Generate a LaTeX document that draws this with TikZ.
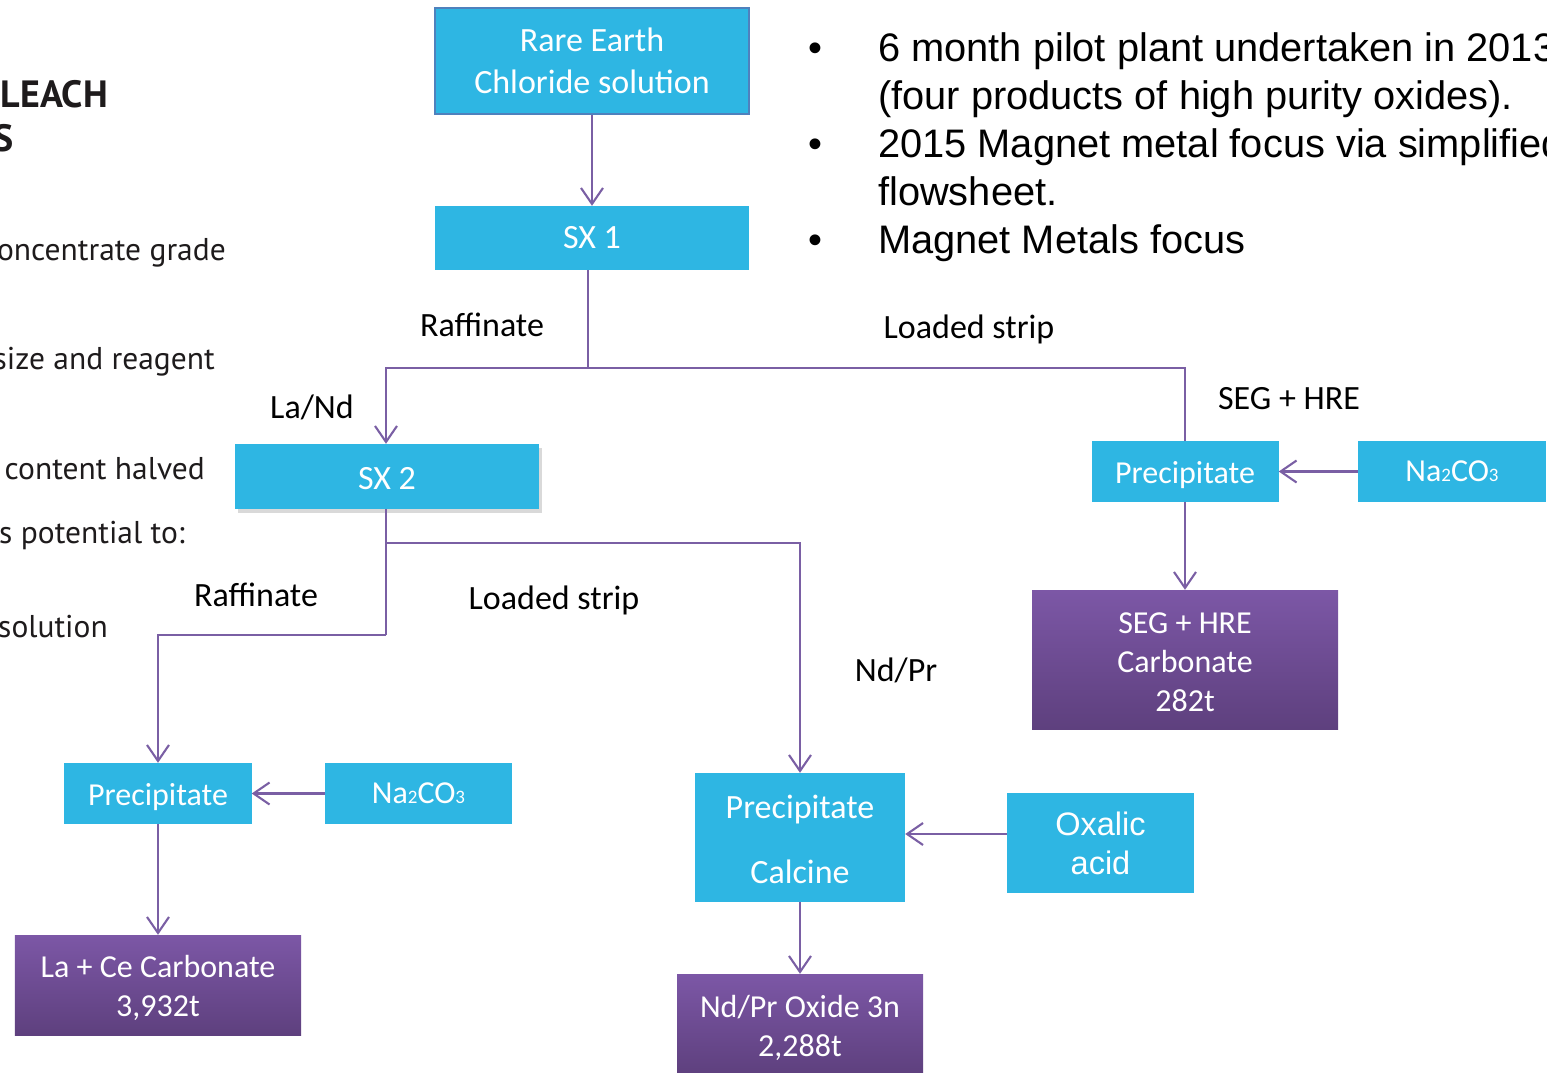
\documentclass[tikz,border=0pt]{standalone}
\usepackage{fontspec}
\setmainfont{Carlito}
\newfontfamily\arialf{Liberation Sans}
\newfontfamily\leftf{PT Sans}
\usetikzlibrary{arrows.meta,shadows}
\definecolor{boxblue}{RGB}{46,182,227}
\definecolor{arrowpurple}{RGB}{122,95,164}
\definecolor{ptop}{RGB}{124,87,166}
\definecolor{pbot}{RGB}{94,64,126}
\definecolor{reborder}{RGB}{79,129,189}
\definecolor{sidetext}{RGB}{30,27,28}
\newcommand\subdig[1]{{\fontsize{19bp}{19bp}\selectfont #1}}
\begin{document}
\begin{tikzpicture}[x=1bp,y=-1bp,
  bluebox/.style={fill=boxblue,text=white,inner sep=0pt,align=center,font=\fontsize{32bp}{39bp}\selectfont},
  purplebox/.style={top color=ptop,bottom color=pbot,text=white,inner sep=0pt,align=center,font=\fontsize{32bp}{39bp}\selectfont},
  lowertext/.style={execute at begin node={\rule{0pt}{#1}}},
  flow/.style={draw=arrowpurple,line width=2.1bp},
  arr/.style={flow,-{Straight Barb[length=16bp,width=22bp,line width=2.1bp]}},
  lbl/.style={font=\fontsize{34bp}{39bp}\selectfont,text=black,inner sep=0pt},
  bul/.style={font=\arialf\fontsize{39.8bp}{48bp}\selectfont,anchor=base west,inner sep=0pt},
  bdot/.style={font=\arialf\fontsize{39.8bp}{48bp}\selectfont,anchor=base,inner sep=0pt},
  side/.style={font=\leftf\fontsize{31.5bp}{36bp}\selectfont,anchor=base east,inner sep=0pt,text=sidetext}
]
\useasboundingbox (0,0) rectangle (1547,1072);
\clip (0,0) rectangle (1547,1072);

% left side partial text
\node[side,font=\leftf\bfseries\fontsize{38bp}{40bp}\selectfont] (t1) at (108,107) {LEACH};
\node[side,font=\leftf\bfseries\fontsize{38bp}{40bp}\selectfont] (t2) at (14,151) {S};
\node[side] (t3) at (226,260) {oncentrate grade};
\node[side] (t4) at (215,369) {size and reagent};
\node[side] (t5) at (205,479) {content halved};
\node[side] (t6) at (185,543) {s potential to:};
\node[side] (t7) at (108,637) {solution};

% bullets
\node[bdot] (b1) at (815,61) {•};
\node[bul] (l1) at (878,61) {6 month pilot plant undertaken in 2013};
\node[bul] (l2) at (878,109) {(four products of high purity oxides).};
\node[bdot] (b2) at (815,157) {•};
\node[bul] (l3) at (878,157) {2015 Magnet metal focus via simplified};
\node[bul] (l4) at (878,205) {flowsheet.};
\node[bdot] (b3) at (815,253) {•};
\node[bul] (l5) at (878,253) {Magnet Metals focus};

% boxes
\node[bluebox,draw=reborder,line width=1.5bp,minimum width=314bp,minimum height=106bp,font=\fontsize{34bp}{42bp}\selectfont] (re) at (592,61) {Rare Earth\\Chloride solution};
\node[bluebox,minimum width=314bp,minimum height=64bp,font=\fontsize{34bp}{39bp}\selectfont] (sx1) at (592,238) {SX 1};
\node[bluebox,minimum width=304bp,minimum height=65bp,font=\fontsize{34bp}{39bp}\selectfont,lowertext=26bp,drop shadow={shadow xshift=3bp,shadow yshift=-4bp,opacity=0.3}] (sx2) at (387,476.5) {SX 2};
\node[bluebox,minimum width=187bp,minimum height=61bp,lowertext=30bp] (pl) at (158,793.5) {Precipitate};
\node[bluebox,minimum width=187bp,minimum height=61bp] (nal) at (418.5,793.5) {Na\subdig{2}CO\subdig{3}};
\node[purplebox,minimum width=286bp,minimum height=100bp] (lace) at (158,985) {\rule{0pt}{29bp}La + Ce Carbonate\\3,932t};
\node[bluebox,minimum width=210bp,minimum height=129bp,font=\fontsize{34bp}{65bp}\selectfont] (pc) at (800,837.5) {\rule{0pt}{27bp}Precipitate\\Calcine};
\node[bluebox,minimum width=187bp,minimum height=100bp,font=\arialf\fontsize{32.5bp}{39bp}\selectfont] (ox) at (1100.5,843) {Oxalic\\acid};
\node[purplebox,minimum width=246bp,minimum height=100bp] (ndpr) at (800,1024) {\rule{0pt}{31bp}Nd/Pr Oxide 3n\\2,288t};
\node[bluebox,minimum width=187bp,minimum height=61bp,lowertext=30bp] (pr) at (1185,471.5) {Precipitate};
\node[bluebox,minimum width=188bp,minimum height=61bp] (nar) at (1452,471.5) {Na\subdig{2}CO\subdig{3}};
\node[purplebox,minimum width=306bp,minimum height=139bp] (seg) at (1185,659.5) {\rule{0pt}{26bp}SEG + HRE\\Carbonate\\282t};

% labels
\node[lbl] (r1) at (482,325) {Raffinate};
\node[lbl] (ls1) at (969,329) {Loaded strip};
\node[lbl] (lan) at (312,407) {La/Nd};
\node[lbl] (seglbl) at (1289,399) {SEG + HRE};
\node[lbl] (r2) at (256,595) {Raffinate};
\node[lbl] (ls2) at (554,600) {Loaded strip};
\node[lbl] (ndp) at (896,670) {Nd/Pr};

% connectors
\coordinate (j1) at (588,368);
\coordinate (j2) at (386,635);
\coordinate (j3) at (386,543);
\draw[arr] (re.south) -- (sx1.north);
\draw[flow] (sx1.south -| j1) -- (j1);
\draw[arr] (j1) -| ([xshift=-1bp]sx2.north);
\draw[flow] (j1) -| (pr.north);
\draw[flow] (sx2.south -| j2) -- (j2);
\draw[arr] (j2) -| (pl.north);
\draw[arr] (j3) -| (pc.north);
\draw[arr] (nal.west) -- (pl.east);
\draw[arr] (pl.south) -- (lace.north);
\draw[arr] ([yshift=9bp]ox.west) -- ([yshift=9bp]ox.west -| pc.east);
\draw[arr] (pc.south) -- (ndpr.north);
\draw[arr] (nar.west) -- (pr.east);
\draw[arr] (pr.south) -- (seg.north);
\end{tikzpicture}
\end{document}
